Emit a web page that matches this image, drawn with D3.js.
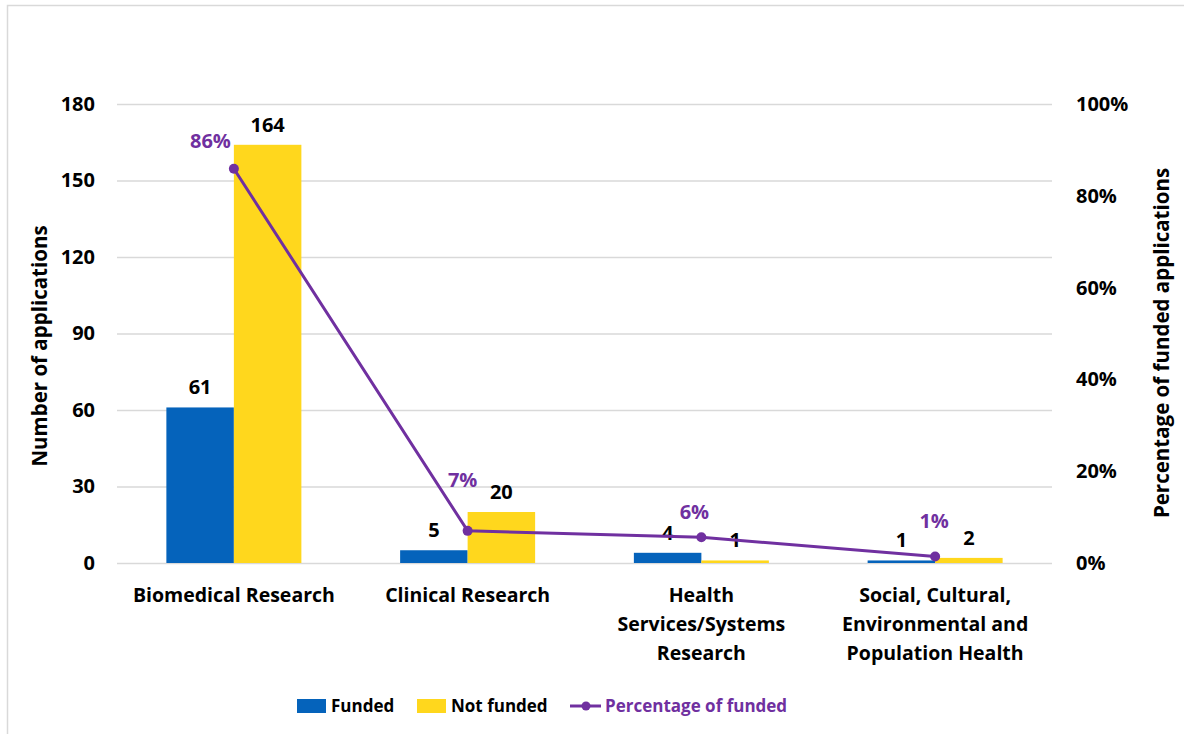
<!DOCTYPE html>
<html>
<head>
<meta charset="utf-8">
<script src="https://cdn.jsdelivr.net/npm/d3@7"></script>
<style>
  body { margin: 0; background: #fff; }
  svg { display: block; font-family: "Open Sans", "DejaVu Sans", sans-serif; }
</style>
</head>
<body>
<svg id="chart" width="1184" height="734"></svg>
<script>
'use strict';

// data
let categories = [
    ["Biomedical Research"],
    ["Clinical Research"],
    ["Health", "Services/Systems", "Research"],
    ["Social, Cultural,", "Environmental and", "Population Health"]
]
let funded = [61, 5, 4, 1]
let notFunded = [164, 20, 1, 2]
let pctFunded = [85.9, 7.0, 5.6, 1.4]
let pctLabels = ["86%", "7%", "6%", "1%"]
let leftTicks = [0, 30, 60, 90, 120, 150, 180]
let rightTicks = [0, 20, 40, 60, 80, 100]
let seriesNames = ["Funded", "Not funded"]

// label nudges for the percentage labels (hand placed in the original)
let pctLabelOffsets = [[-3, -21], [-5, -44], [-7, -18], [-1, -29]]

let colors = { funded: "#0563BB", notFunded: "#FFD71D", line: "#7030A0", grid: "#D9D9D9" }

let svg = d3.select("#chart")
let margin = { left: 117, right: 1052, top: 104, bottom: 563 }

// frame
svg.append("rect")
    .attr("x", 7.5).attr("y", 5.5)
    .attr("width", 1200).attr("height", 800)
    .attr("fill", "none").attr("stroke", "#D9D9D9").attr("stroke-width", 1.5)

let x0 = d3.scaleBand()
    .domain(d3.range(categories.length))
    .range([margin.left, margin.right])
let groupW = 135
let x1 = d3.scaleBand().domain(seriesNames).range([0, groupW])
let y = d3.scaleLinear().domain([0, 180]).range([margin.bottom, margin.top])
let yPct = d3.scaleLinear().domain([0, 100]).range([margin.bottom, margin.top])

function groupLeft(i) { return x0(i) + (x0.bandwidth() - groupW) / 2 }

// gridlines + left axis
let leftAxis = d3.axisLeft(y).tickValues(leftTicks).tickSize(-(margin.right - margin.left)).tickPadding(22)
let gLeft = svg.append("g").attr("transform", "translate(" + margin.left + ",0)").call(leftAxis)
gLeft.select(".domain").remove()
gLeft.selectAll(".tick line").attr("stroke", colors.grid).attr("stroke-width", 1.5)
gLeft.selectAll(".tick text")
    .attr("font-size", 20).attr("font-weight", 700).attr("fill", "#000")
    .attr("font-family", "'Open Sans', sans-serif")

let rightAxis = d3.axisRight(yPct).tickValues(rightTicks).tickSize(0).tickPadding(24)
    .tickFormat(function(d) { return d + "%" })
let gRight = svg.append("g").attr("transform", "translate(" + margin.right + ",0)").call(rightAxis)
gRight.select(".domain").remove()
gRight.selectAll(".tick text")
    .attr("font-size", 20).attr("font-weight", 700).attr("fill", "#000")
    .attr("font-family", "'Open Sans', sans-serif")

// bars
let rows = categories.map(function(c, i) {
    return [
        { i: i, key: "Funded", v: funded[i], color: colors.funded },
        { i: i, key: "Not funded", v: notFunded[i], color: colors.notFunded }
    ]
})
let barG = svg.append("g")
let bars = barG.selectAll("g").data(rows).enter().append("g")
    .attr("transform", function(d, i) { return "translate(" + groupLeft(i) + ",0)" })
bars.selectAll("rect").data(function(d) { return d }).enter().append("rect")
    .attr("x", function(d) { return x1(d.key) })
    .attr("width", x1.bandwidth())
    .attr("y", function(d) { return y(d.v) })
    .attr("height", function(d) { return y(0) - y(d.v) })
    .attr("fill", function(d) { return d.color })
bars.selectAll("text").data(function(d) { return d }).enter().append("text")
    .attr("x", function(d) { return x1(d.key) + x1.bandwidth() / 2 })
    .attr("y", function(d) { return y(d.v) - 13 })
    .attr("text-anchor", "middle")
    .attr("font-size", 20).attr("font-weight", 700).attr("fill", "#000")
    .text(function(d) { return d.v })

// category labels
let catG = svg.append("g")
categories.forEach(function(lines, i) {
    let t = catG.append("text")
        .attr("x", x0(i) + x0.bandwidth() / 2)
        .attr("y", 602)
        .attr("text-anchor", "middle")
        .attr("font-size", 19.5).attr("font-weight", 700).attr("fill", "#000")
    lines.forEach(function(line, j) {
        t.append("tspan").attr("x", x0(i) + x0.bandwidth() / 2).attr("dy", j === 0 ? 0 : 29).text(line)
    })
})

// percentage line
let cx = function(d, i) { return x0(i) + x0.bandwidth() / 2 }
let line = d3.line().x(cx).y(function(d) { return yPct(d) })
svg.append("path").datum(pctFunded)
    .attr("d", line).attr("fill", "none")
    .attr("stroke", colors.line).attr("stroke-width", 3)
svg.append("g").selectAll("circle").data(pctFunded).enter().append("circle")
    .attr("cx", cx).attr("cy", function(d) { return yPct(d) })
    .attr("r", 5).attr("fill", colors.line)
svg.append("g").selectAll("text").data(pctFunded).enter().append("text")
    .attr("x", function(d, i) { return cx(d, i) + pctLabelOffsets[i][0] })
    .attr("y", function(d, i) { return yPct(d) + pctLabelOffsets[i][1] })
    .attr("text-anchor", function(d, i) { return i === 0 ? "end" : "middle" })
    .attr("font-size", 20).attr("font-weight", 700).attr("fill", colors.line)
    .text(function(d, i) { return pctLabels[i] })

// axis titles
svg.append("text")
    .attr("transform", "translate(47,346) rotate(-90)")
    .attr("text-anchor", "middle")
    .attr("font-size", 20.5).attr("font-weight", 700).attr("fill", "#000")
    .text("Number of applications")
svg.append("text")
    .attr("transform", "translate(1169,343) rotate(-90)")
    .attr("text-anchor", "middle")
    .attr("font-size", 20.5).attr("font-weight", 700).attr("fill", "#000")
    .text("Percentage of funded applications")

// legend
let legend = svg.append("g").attr("font-size", 17).attr("font-weight", 700)
legend.append("rect").attr("x", 297).attr("y", 699).attr("width", 29).attr("height", 14).attr("fill", colors.funded)
legend.append("text").attr("x", 331).attr("y", 712).attr("fill", "#000").text("Funded")
legend.append("rect").attr("x", 417).attr("y", 699).attr("width", 29).attr("height", 14).attr("fill", colors.notFunded)
legend.append("text").attr("x", 451).attr("y", 712).attr("fill", "#000").text("Not funded")
legend.append("line").attr("x1", 570).attr("x2", 601).attr("y1", 706).attr("y2", 706)
    .attr("stroke", colors.line).attr("stroke-width", 3)
legend.append("circle").attr("cx", 586).attr("cy", 706).attr("r", 4.5).attr("fill", colors.line)
legend.append("text").attr("x", 605).attr("y", 712).attr("fill", colors.line)
    .text("Percentage of funded")
</script>
</body>
</html>
